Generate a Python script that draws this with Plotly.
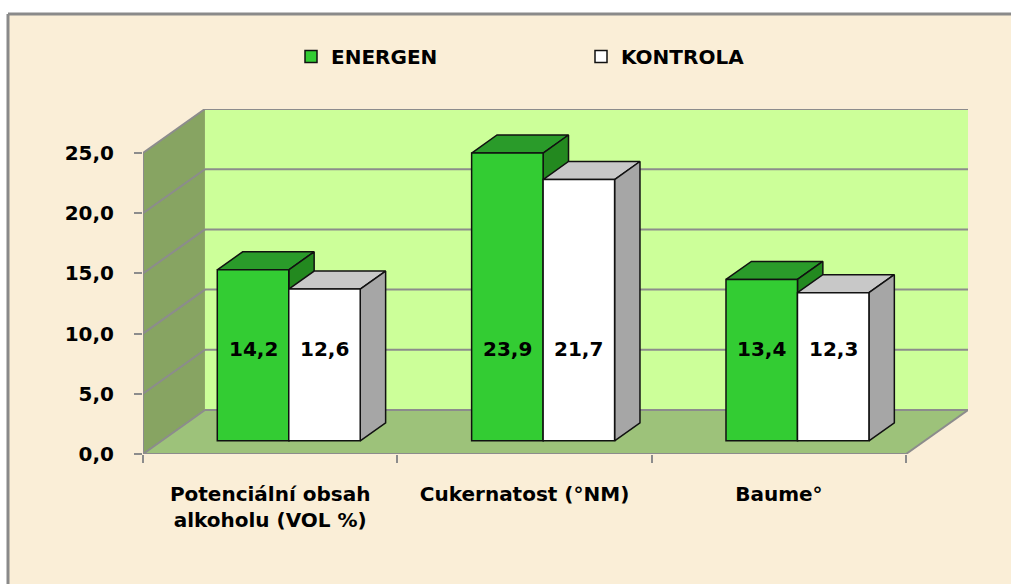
import plotly.graph_objects as go

# ---------------- data ----------------
categories = ["Potenciální obsah<br>alkoholu (VOL %)", "Cukernatost (°NM)", "Baume°"]
energen = [14.2, 23.9, 13.4]
kontrola = [12.6, 21.7, 12.3]
series_names = ["ENERGEN", "KONTROLA"]
y_tickvals = [0, 5, 10, 15, 20, 25]
y_ticktext = ["0,0", "5,0", "10,0", "15,0", "20,0", "25,0"]
value_text_energen = ["14,2", "23,9", "13,4"]
value_text_kontrola = ["12,6", "21,7", "12,3"]

# ---------------- style / geometry ----------------
W, H = 1011, 584
ML, MR, MT, MB = 143, 43, 109, 130
PW, PH = W - ML - MR, H - MT - MB
YMAX = 25
DX = 0.2435          # depth offset in category units
DY = 3.654           # depth offset in value units
F0, F1 = 0.30, 0.71  # bar depth range (fraction of floor depth)
BAR_W = 0.281
LABEL_LEVEL = 7.6
FONT = dict(family="DejaVu Sans", size=20, color="#000000", weight="bold")
GRID = "#8C8C8C"
BG = "#FAEED7"
WALL = "#CCFF99"
SIDE_WALL = "#87A462"
FLOOR = "#9DC27A"
colors_front = ["#33CC33", "#FFFFFF"]
colors_top = ["#2A9B2A", "#C8C8C8"]
colors_side = ["#23891F", "#A6A6A6"]
OUTLINE = "#111111"

n = len(categories)
fig = go.Figure()

def px2paper_x(px):
    return (px - ML) / PW

def px2paper_y(py):
    return (H - MB - py) / PH

shapes = []
# chart area background (beige) and border lines (top, left)
shapes.append(dict(type="rect", xref="paper", yref="paper",
                   x0=px2paper_x(8), x1=px2paper_x(W + 40),
                   y0=px2paper_y(H + 40), y1=px2paper_y(14),
                   fillcolor=BG, line=dict(width=0), layer="below"))
shapes.append(dict(type="line", xref="paper", yref="paper",
                   x0=px2paper_x(8), x1=px2paper_x(W + 40),
                   y0=px2paper_y(14), y1=px2paper_y(14),
                   line=dict(color="#8A8A8A", width=3), layer="below"))
shapes.append(dict(type="line", xref="paper", yref="paper",
                   x0=px2paper_x(8), x1=px2paper_x(8),
                   y0=px2paper_y(14), y1=px2paper_y(H + 40),
                   line=dict(color="#8A8A8A", width=3), layer="below"))
# back wall
shapes.append(dict(type="rect", xref="x", yref="y", x0=DX, x1=n + DX, y0=DY, y1=YMAX + DY,
                   fillcolor=WALL, line=dict(width=0), layer="below"))
# side wall
shapes.append(dict(type="path", xref="x", yref="y",
                   path=f"M0,0 L0,{YMAX} L{DX},{YMAX + DY} L{DX},{DY} Z",
                   fillcolor=SIDE_WALL, line=dict(width=0), layer="below"))
# floor
shapes.append(dict(type="path", xref="x", yref="y",
                   path=f"M0,0 L{n},0 L{n + DX},{DY} L{DX},{DY} Z",
                   fillcolor=FLOOR, line=dict(width=0), layer="below"))
# gridlines on walls
for v in y_tickvals:
    shapes.append(dict(type="line", xref="x", yref="y", x0=DX, x1=n + DX, y0=v + DY, y1=v + DY,
                       line=dict(color=GRID, width=2), layer="below"))
    shapes.append(dict(type="line", xref="x", yref="y", x0=0, x1=DX, y0=v, y1=v + DY,
                       line=dict(color=GRID, width=2), layer="below"))
# axis lines and floor edge
shapes.append(dict(type="line", xref="x", yref="y", x0=0, x1=0, y0=0, y1=YMAX,
                   line=dict(color=GRID, width=2), layer="below"))
shapes.append(dict(type="line", xref="x", yref="y", x0=0, x1=n, y0=0, y1=0,
                   line=dict(color=GRID, width=2), layer="below"))
shapes.append(dict(type="line", xref="x", yref="y", x0=n, x1=n + DX, y0=0, y1=DY,
                   line=dict(color=GRID, width=2), layer="below"))

# ---------------- bars ----------------
series = [energen, kontrola]
texts = [value_text_energen, value_text_kontrola]
annotations = []
for s, vals in enumerate(series):
    u0s = [i + 0.5 - BAR_W + s * BAR_W for i in range(n)]
    # front faces via real bars
    fig.add_trace(go.Bar(
        x=[u + BAR_W / 2 + F0 * DX for u in u0s], y=vals, base=[F0 * DY] * n,
        width=BAR_W, name=series_names[s],
        marker=dict(color=colors_front[s], line=dict(color=OUTLINE, width=1.5)),
        zorder=2 + 3 * s, hoverinfo="skip"))
    for i, v in enumerate(vals):
        u0, u1 = u0s[i], u0s[i] + BAR_W
        # top face
        tx = [u0 + F0 * DX, u1 + F0 * DX, u1 + F1 * DX, u0 + F1 * DX, u0 + F0 * DX]
        ty = [v + F0 * DY, v + F0 * DY, v + F1 * DY, v + F1 * DY, v + F0 * DY]
        fig.add_trace(go.Scatter(x=tx, y=ty, mode="lines", fill="toself",
                                 fillcolor=colors_top[s], line=dict(color=OUTLINE, width=1.5),
                                 showlegend=False, hoverinfo="skip", zorder=1 + 3 * s))
        # side face
        sx = [u1 + F0 * DX, u1 + F1 * DX, u1 + F1 * DX, u1 + F0 * DX, u1 + F0 * DX]
        sy = [F0 * DY, F1 * DY, v + F1 * DY, v + F0 * DY, F0 * DY]
        fig.add_trace(go.Scatter(x=sx, y=sy, mode="lines", fill="toself",
                                 fillcolor=colors_side[s], line=dict(color=OUTLINE, width=1.5),
                                 showlegend=False, hoverinfo="skip", zorder=1 + 3 * s))
        annotations.append(dict(x=(u0 + u1) / 2 + F0 * DX, y=F0 * DY + LABEL_LEVEL,
                                xref="x", yref="y", text=texts[s][i], showarrow=False,
                                font=FONT))

fig.update_layout(
    width=W, height=H,
    margin=dict(l=ML, r=MR, t=MT, b=MB, pad=0),
    paper_bgcolor="#FFFFFF", plot_bgcolor="rgba(0,0,0,0)",
    barmode="overlay",
    shapes=shapes, annotations=annotations,
    showlegend=True,
    legend=dict(orientation="h", x=px2paper_x(291), y=px2paper_y(37),
                xanchor="left", yanchor="top", font=FONT,
                entrywidth=245, entrywidthmode="pixels",
                bgcolor="rgba(0,0,0,0)", traceorder="normal"),
    xaxis=dict(range=[0, n + DX], showgrid=False, zeroline=False, showline=False,
               tickmode="array", tickvals=[i + 0.5 for i in range(n)], ticktext=categories,
               ticks="", tickfont=FONT, ticklabelstandoff=26,
               minor=dict(tickmode="array", tickvals=list(range(n + 1)), ticks="outside",
                          ticklen=8, tickwidth=2, tickcolor=GRID, showgrid=False),
               fixedrange=True),
    yaxis=dict(range=[0, YMAX + DY], showgrid=False, zeroline=False, showline=False,
               tickmode="array", tickvals=y_tickvals, ticktext=y_ticktext,
               ticks="outside", ticklen=8, tickwidth=2, tickcolor=GRID,
               tickfont=FONT, ticklabelstandoff=16, fixedrange=True),
)

fig.write_html("out.html", config={"displayModeBar": False},
               post_script="document.body.style.margin='0px';document.body.style.overflow='hidden';")
